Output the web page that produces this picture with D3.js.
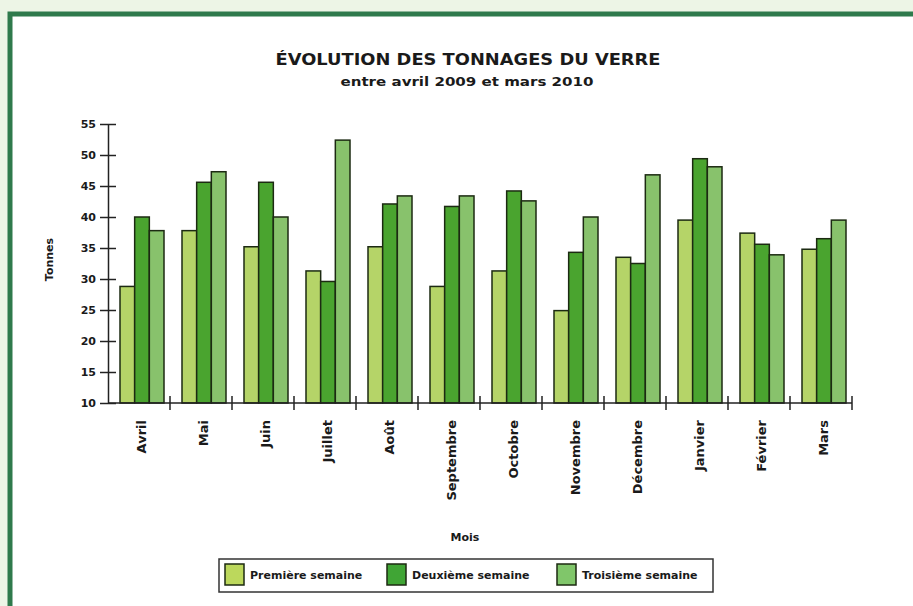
<!DOCTYPE html>
<html>
<head>
    <meta charset="utf-8">
    <title>Évolution des tonnages du verre</title>
    <script src="https://d3js.org/d3.v7.min.js"></script>
    <style>
      body { margin: 0; background: #edf5e6; }
      text { font-family: "DejaVu Sans", sans-serif; font-weight: bold; fill: #1a1a1a; }
    </style>
</head>
<body>
<div id="chart"></div>
<script type="text/javascript">
    // données
    let mois = ["Avril", "Mai", "Juin", "Juillet", "Août", "Septembre", "Octobre",
                "Novembre", "Décembre", "Janvier", "Février", "Mars"];
    let series = ["Première semaine", "Deuxième semaine", "Troisième semaine"];
    let premiere  = [28.8, 37.8, 35.2, 31.3, 35.2, 28.8, 31.3, 24.9, 33.5, 39.5, 37.4, 34.8];
    let deuxieme  = [40.0, 45.6, 45.6, 29.6, 42.1, 41.7, 44.2, 34.3, 32.5, 49.4, 35.6, 36.5];
    let troisieme = [37.8, 47.3, 40.0, 52.4, 43.4, 43.4, 42.6, 40.0, 46.8, 48.1, 33.9, 39.5];
    let yTicks = [10, 15, 20, 25, 30, 35, 40, 45, 50, 55];

    let couleurs = ["#b5d468", "#4aa42f", "#88c26c"];
    let legendeCouleurs = ["#bcd85c", "#40a535", "#80c66a"];

    let W = 913, H = 606;
    let margin = {top: 124, right: 61, bottom: 203, left: 108};
    let w = W - margin.left - margin.right;
    let h = H - margin.top - margin.bottom;

    let root = d3.select("#chart").append("svg")
        .attr("width", W)
        .attr("height", H);

    // cadre vert
    root.append("rect")
        .attr("x", 10).attr("y", 14)
        .attr("width", W + 20).attr("height", H + 20)
        .attr("fill", "#ffffff")
        .attr("stroke", "#2f7a4c")
        .attr("stroke-width", 5);

    root.append("text")
        .attr("x", 468).attr("y", 65)
        .attr("text-anchor", "middle")
        .attr("font-size", "15px")
        .attr("textLength", 385).attr("lengthAdjust", "spacingAndGlyphs")
        .text("ÉVOLUTION DES TONNAGES DU VERRE");

    root.append("text")
        .attr("x", 467).attr("y", 86)
        .attr("text-anchor", "middle")
        .attr("font-size", "12px")
        .attr("textLength", 253).attr("lengthAdjust", "spacingAndGlyphs")
        .text("entre avril 2009 et mars 2010");

    let svg = root.append("g")
        .attr("transform", "translate(" + margin.left + "," + margin.top + ")");

    let data = mois.map((m, i) => ({mois: m, valeurs: [premiere[i], deuxieme[i], troisieme[i]]}));

    let xScale = d3.scaleBand()
        .domain(mois)
        .range([0, w]);

    let xInner = d3.scaleBand()
        .domain(d3.range(series.length))
        .range([12, xScale.bandwidth() - 6]);

    let yScale = d3.scaleLinear()
        .domain([10, 55])
        .range([h, 0]);

    let groups = svg.selectAll("g.mois")
        .data(data)
        .enter()
        .append("g")
            .attr("class", "mois")
            .attr("transform", d => "translate(" + xScale(d.mois) + ",0)");

    groups.selectAll("rect")
        .data(d => d.valeurs)
        .enter()
        .append("rect")
            .attr("x", (d, i) => xInner(i))
            .attr("y", d => yScale(d))
            .attr("width", xInner.bandwidth())
            .attr("height", d => h - yScale(d))
            .attr("fill", (d, i) => couleurs[i])
            .attr("stroke", "#1c2a12")
            .attr("stroke-width", 1.5);

    // axe Y avec graduations croisées
    let yAxis = d3.axisLeft(yScale)
        .tickValues(yTicks)
        .tickSize(0)
        .tickPadding(12);

    let gy = svg.append("g").call(yAxis);
    gy.select(".domain").attr("stroke", "#222").attr("stroke-width", 1.5);
    gy.selectAll(".tick text").attr("font-size", "11px").attr("font-family", "DejaVu Sans").attr("font-weight", "bold");
    gy.selectAll(".tick").append("line")
        .attr("x1", -8).attr("x2", 8)
        .attr("stroke", "#222").attr("stroke-width", 1.5);

    // axe X : graduations entre les mois
    let gx = svg.append("g")
        .attr("transform", "translate(0," + h + ")");

    gx.append("line")
        .attr("x1", 0).attr("x2", w)
        .attr("stroke", "#222").attr("stroke-width", 1.5);

    gx.selectAll("line.sep")
        .data(mois)
        .enter()
        .append("line")
            .attr("class", "sep")
            .attr("x1", d => xScale(d) + xScale.bandwidth())
            .attr("x2", d => xScale(d) + xScale.bandwidth())
            .attr("y1", -7).attr("y2", 7)
            .attr("stroke", "#222").attr("stroke-width", 1.5);

    gx.selectAll("text.mois")
        .data(mois)
        .enter()
        .append("text")
            .attr("class", "mois")
            .attr("transform", d => "translate(" + (xScale(d) + xScale.bandwidth() / 2 + 2) + ",17) rotate(-90)")
            .attr("dy", "0.35em")
            .attr("text-anchor", "end")
            .attr("font-size", "13px")
            .text(d => d);

    root.append("text")
        .attr("x", 465).attr("y", 541)
        .attr("text-anchor", "middle")
        .attr("font-size", "11px")
        .text("Mois");

    root.append("text")
        .attr("transform", "translate(53," + (margin.top + h / 2 - 4) + ") rotate(-90)")
        .attr("text-anchor", "middle")
        .attr("font-size", "11px")
        .text("Tonnes");

    // légende
    let legende = root.append("g");
    legende.append("rect")
        .attr("x", 219).attr("y", 559)
        .attr("width", 494).attr("height", 33)
        .attr("fill", "#ffffff")
        .attr("stroke", "#333")
        .attr("stroke-width", 1.5);

    let legX = [225, 387, 557];
    let items = legende.selectAll("g.item")
        .data(series)
        .enter()
        .append("g")
            .attr("class", "item")
            .attr("transform", (d, i) => "translate(" + legX[i] + ",564)");

    items.append("rect")
        .attr("width", 19).attr("height", 21)
        .attr("fill", (d, i) => legendeCouleurs[i])
        .attr("stroke", "#1c2a12")
        .attr("stroke-width", 1.5);

    items.append("text")
        .attr("x", 25).attr("y", 15)
        .attr("font-size", "11px")
        .text(d => d);
</script>
</body>
</html>
